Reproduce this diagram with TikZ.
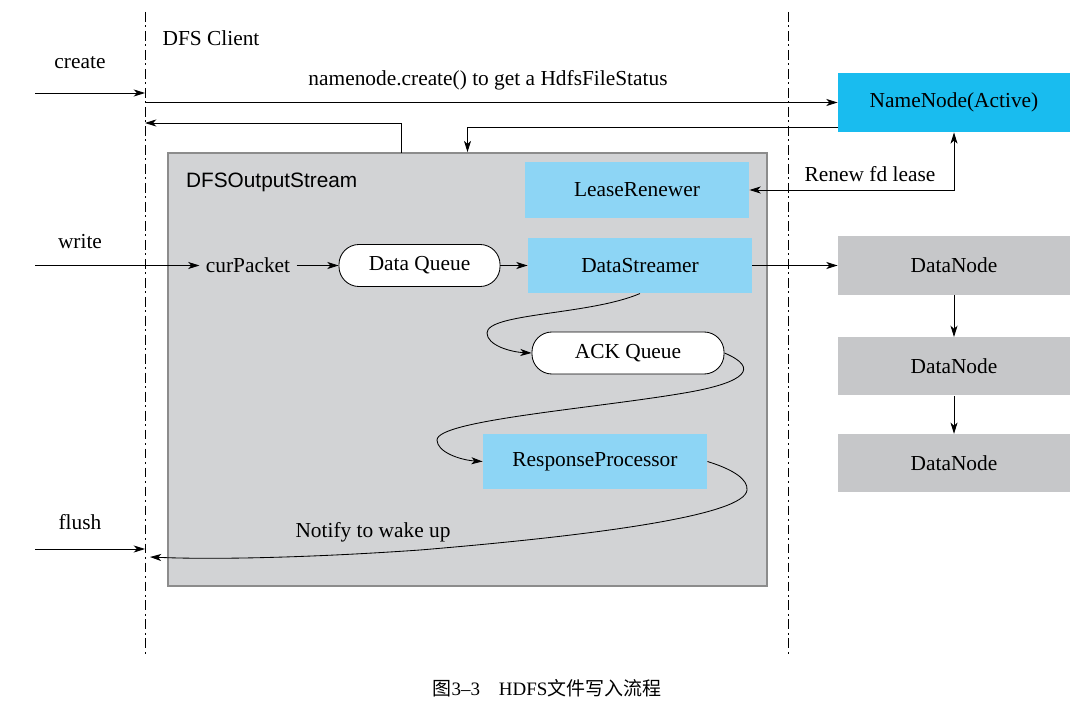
\documentclass[tikz,border=0pt]{standalone}
\usepackage{fontspec}
\setmainfont{Liberation Serif}
\setsansfont{Liberation Sans}
\newfontfamily\cjk{Noto Sans CJK SC}
\usetikzlibrary{positioning, arrows.meta, calc}

\definecolor{nameblue}{HTML}{19BCEF}
\definecolor{lightblue}{HTML}{8DD5F5}
\definecolor{nodegray}{HTML}{C6C7C9}
\definecolor{streamgray}{HTML}{D2D3D5}
\definecolor{framegray}{HTML}{8C8C8C}

\begin{document}
\begin{tikzpicture}[x=0.025cm, y=-0.025cm, line width=0.6pt,
    font=\fontsize{15.2}{17}\selectfont,
    >={Stealth[length=8pt,width=5pt,inset=2.2pt]},
    bluebox/.style={fill=lightblue, inner sep=0pt, minimum width=5.6cm, minimum height=1.38cm},
    graybox/.style={fill=nodegray, inner sep=0pt, minimum width=5.8cm, minimum height=1.45cm},
    queue/.style={draw, fill=white, rounded corners=0.5cm, inner sep=0pt, minimum height=1.05cm},
    lifeline/.style={dash pattern=on 7pt off 2.5pt on 1.5pt off 2.5pt, line width=0.5pt}]
      \useasboundingbox (0,0) rectangle (1084,708);
      \draw[lifeline] (145,12) -- (145,655);
      \draw[lifeline] (788,12) -- (788,655);
      \node[draw=framegray, line width=1.2pt, fill=streamgray, inner sep=0pt,
        minimum width=14.975cm, minimum height=10.825cm] (outstream) at (467.5,369.5) {};
      \node[font=\sffamily\fontsize{14.8}{17}\selectfont, anchor=west] (streamlabel) at (181,182) {DFSOutputStream};

      \node[fill=nameblue, inner sep=0pt, minimum width=5.8cm, minimum height=1.475cm] (namenode) at (954,102.5) {NameNode(Active)};
      \node[bluebox] (renewer) at (637,190) {LeaseRenewer};
      \node[bluebox] (streamer) at (640,265.5) {DataStreamer};
      \node[bluebox] (responder) at (595,461.5) {ResponseProcessor};
      \node[queue, minimum width=4.025cm] (dataqueue) at (419.5,265.5) {Data Queue};
      \node[queue, minimum width=4.8cm] (ackqueue) at (628,353) {ACK Queue};
      \node[inner sep=0.15cm] (curpacket) at (248,265.5) {curPacket};
      \node[graybox] (datanode1) at (954,265.5) {DataNode};
      \node[graybox, below=1.05cm of datanode1] (datanode2) {DataNode};
      \node[graybox, below=0.95cm of datanode2] (datanode3) {DataNode};

      \node (clientlabel) at (211,38) {DFS Client};
      \node (createlabel) at (80,63) {create};
      \node (writelabel) at (80,242) {write};
      \node (flushlabel) at (80,522) {flush};
      \node (statuslabel) at (488,80) {namenode.create() to get a HdfsFileStatus};
      \node (renewlabel) at (870,174) {Renew fd lease};
      \node (notifylabel) at (373,532) {Notify to wake up};
      \node[font=\fontsize{13.5}{15}\selectfont] (caption) at (547,688) {{\cjk 图}3\textendash3\quad HDFS{\cjk 文件写入流程}};

      \coordinate (createin) at (35,93);
      \coordinate (createat) at (145,93);
      \coordinate (statusfrom) at (145,102.5);
      \coordinate (statusup) at (401,153);
      \coordinate (statusat) at (145,123);
      \coordinate (writein) at (35,265.5);
      \coordinate (flushin) at (35,549);
      \coordinate (flushat) at (145,549);
      \coordinate (notifyat) at (150,557);

      \draw[->] (createin) -- (createat);
      \draw[->] (statusfrom) -- (namenode.west);
      \draw[->] (statusup) |- (statusat);
      \draw[->] ([yshift=0.125cm]namenode.south west) -| (outstream.north);
      \draw[<->] (renewer.east) -| (namenode.south);
      \draw[->] (writein) -- (curpacket.west);
      \draw[->] (curpacket) -- (dataqueue);
      \draw[->] (dataqueue) -- (streamer);
      \draw[->] (streamer) -- (datanode1);
      \draw[->] (datanode1) -- (datanode2);
      \draw[->] (datanode2) -- (datanode3);
      \draw[->] (streamer.south) .. controls (590,315) and (487,313) .. (487,333)
        .. controls (487,345) and (510,352) .. (ackqueue.west);
      \draw[->] (ackqueue.east) .. controls (760,368) and (745,382) .. (690,392)
        .. controls (600,408) and (437,420) .. (437,440)
        .. controls (437,452) and (460,460) .. (responder.west);
      \draw[->] (responder.east) .. controls (735,470) and (748,480) .. (747,490)
        .. controls (745,515) and (600,535) .. (420,550)
        .. controls (320,557) and (220,560) .. (notifyat);
      \draw[->] (flushin) -- (flushat);
    \end{tikzpicture}
\end{document}
